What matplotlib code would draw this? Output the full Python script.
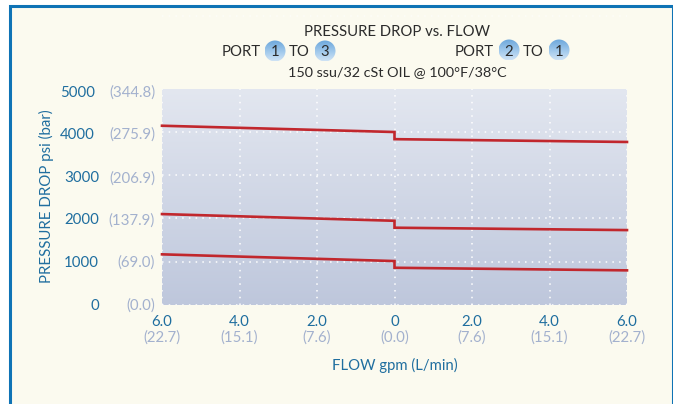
# pressure drop vs flow chart
import matplotlib
matplotlib.use('Agg')
import matplotlib.pyplot as plt
from matplotlib.patches import Rectangle, Circle
import numpy as np

plt.rcParams['font.family'] = ['Lato', 'DejaVu Sans']

flow = [-6, 0, 0, 6]
upper = [4140, 3995, 3830, 3765]
middle = [2100, 1945, 1785, 1730]
lower = [1170, 1015, 860, 800]

psi_ticks = [0, 1000, 2000, 3000, 4000, 5000]
bar_labels = ['(0.0)', '(69.0)', '(137.9)', '(206.9)', '(275.9)', '(344.8)']
flow_ticks = [-6, -4, -2, 0, 2, 4, 6]
gpm_labels = ['6.0', '4.0', '2.0', '0', '2.0', '4.0', '6.0']
lpm_labels = ['(22.7)', '(15.1)', '(7.6)', '(0.0)', '(7.6)', '(15.1)', '(22.7)']

W, H = 673, 404
BLUE = '#1F6E9F'
GREY = '#A3B1CE'
DARK = '#2B2B2B'

fig = plt.figure(figsize=(W/100, H/100), dpi=100, facecolor='white')

# cream panel with blue border, runs off the bottom
fig.add_artist(Rectangle((10/W, -0.05), (W-10)/W, 1.05-6/H, transform=fig.transFigure,
                         facecolor='#FBFAEF', edgecolor='#0F73B5', linewidth=2.2, zorder=-1))

ax = fig.add_axes([162/W, 1-305/H, (627-162)/W, (305-88.5)/H])
ax.set_facecolor('none')
for s in ax.spines.values():
    s.set_visible(False)

# background gradient
grad = np.linspace(0, 1, 256).reshape(-1, 1)
cmap = matplotlib.colors.LinearSegmentedColormap.from_list('bg', ['#E3E7F0', '#BEC7DC'])
ax.imshow(grad, extent=[0, 1, 0, 1], transform=ax.transAxes, cmap=cmap, aspect='auto', zorder=0)
ax.set_xlim(-6, 6)
ax.set_ylim(0, 5000)

dots = (0, (1, 3.4))
ax.grid(True, color='white', linestyle=dots, linewidth=1.1, zorder=1)
ax.set_axisbelow(False)
# faint leftover grid row above the title
ax.plot([0, 1], [1.335, 1.335], transform=ax.transAxes, color='white', linestyle=dots, linewidth=1.1,
        alpha=0.6, clip_on=False)

for ys in (upper, middle, lower):
    ax.plot(flow, ys, color='#C1272D', linewidth=1.9, solid_joinstyle='miter', clip_on=False, zorder=3)

# double axis labels, all placed from the tick values
ax.set_yticks(psi_ticks)
ax.set_yticklabels([])
ax.set_xticks(flow_ticks)
ax.set_xticklabels([])
ax.tick_params(length=0)
psi_dx = [-63, -63, -63, -63, -67, -67]
psi_dy = [-1, -1, -2, -3, -3, -4.5]
for v, dx, dy, lab in zip(psi_ticks, psi_dx, psi_dy, bar_labels):
    ax.annotate(str(v), xy=(0, v), xycoords=('axes fraction', 'data'), xytext=(dx, dy), textcoords='offset pixels',
                ha='right', va='center', color=BLUE, fontsize=10.8)
    ax.annotate(lab, xy=(0, v), xycoords=('axes fraction', 'data'), xytext=(-7, dy), textcoords='offset pixels',
                ha='right', va='center', color=GREY, fontsize=10.8)
for v, gpm, lab in zip(flow_ticks, gpm_labels, lpm_labels):
    ax.annotate(gpm, xy=(v, 0), xycoords=('data', 'axes fraction'), xytext=(0, -17), textcoords='offset pixels',
                ha='center', va='center', color=BLUE, fontsize=10.8)
    ax.annotate(lab, xy=(v, 0), xycoords=('data', 'axes fraction'), xytext=(0, -32.5), textcoords='offset pixels',
                ha='center', va='center', color=GREY, fontsize=10.8)

fig.text(46.5/W, 1-196/H, 'PRESSURE DROP psi (bar)', rotation=90, ha='center', va='center', color=BLUE, fontsize=10.8)
fig.text(395/W, 1-365/H, 'FLOW gpm (L/min)', ha='center', va='center', color=BLUE, fontsize=10.7)

# title block
fig.text(397/W, 1-31.5/H, 'PRESSURE DROP vs. FLOW', ha='center', va='center', color=DARK, fontsize=10.7)
fig.text(397/W, 1-72.5/H, '150 ssu/32 cSt OIL @ 100°F/38°C', ha='center', va='center', color=DARK, fontsize=10.4)
fig.text(222/W, 1-52.5/H, 'PORT', ha='left', va='center', color=DARK, fontsize=10.7)
fig.text(289/W, 1-52.5/H, 'TO', ha='left', va='center', color=DARK, fontsize=10.7)
fig.text(455/W, 1-51.5/H, 'PORT', ha='left', va='center', color=DARK, fontsize=10.7)
fig.text(523/W, 1-51.5/H, 'TO', ha='left', va='center', color=DARK, fontsize=10.7)

# port badges
overlay = fig.add_axes([0, 0, 1, 1], facecolor='none')
overlay.set_xlim(0, W)
overlay.set_ylim(H, 0)
overlay.axis('off')
badge = matplotlib.colors.LinearSegmentedColormap.from_list('badge', ['#6BA6DB', '#9CC6EA', '#CFE3F5'])
for cx, cy, num in [(275, 51, '1'), (325, 51, '3'), (509, 50, '2'), (559, 50, '1')]:
    im = overlay.imshow(grad, extent=[cx-10.5, cx+10.5, cy+10.5, cy-10.5], cmap=badge, aspect='auto', zorder=1)
    im.set_clip_path(Circle((cx, cy), 10.5, transform=overlay.transData))
    overlay.text(cx, cy+1.5, num, ha='center', va='center', color=DARK, fontsize=10.7, zorder=2)
overlay.set_xlim(0, W)
overlay.set_ylim(H, 0)

fig.savefig('out.png', dpi=100, facecolor='white')
